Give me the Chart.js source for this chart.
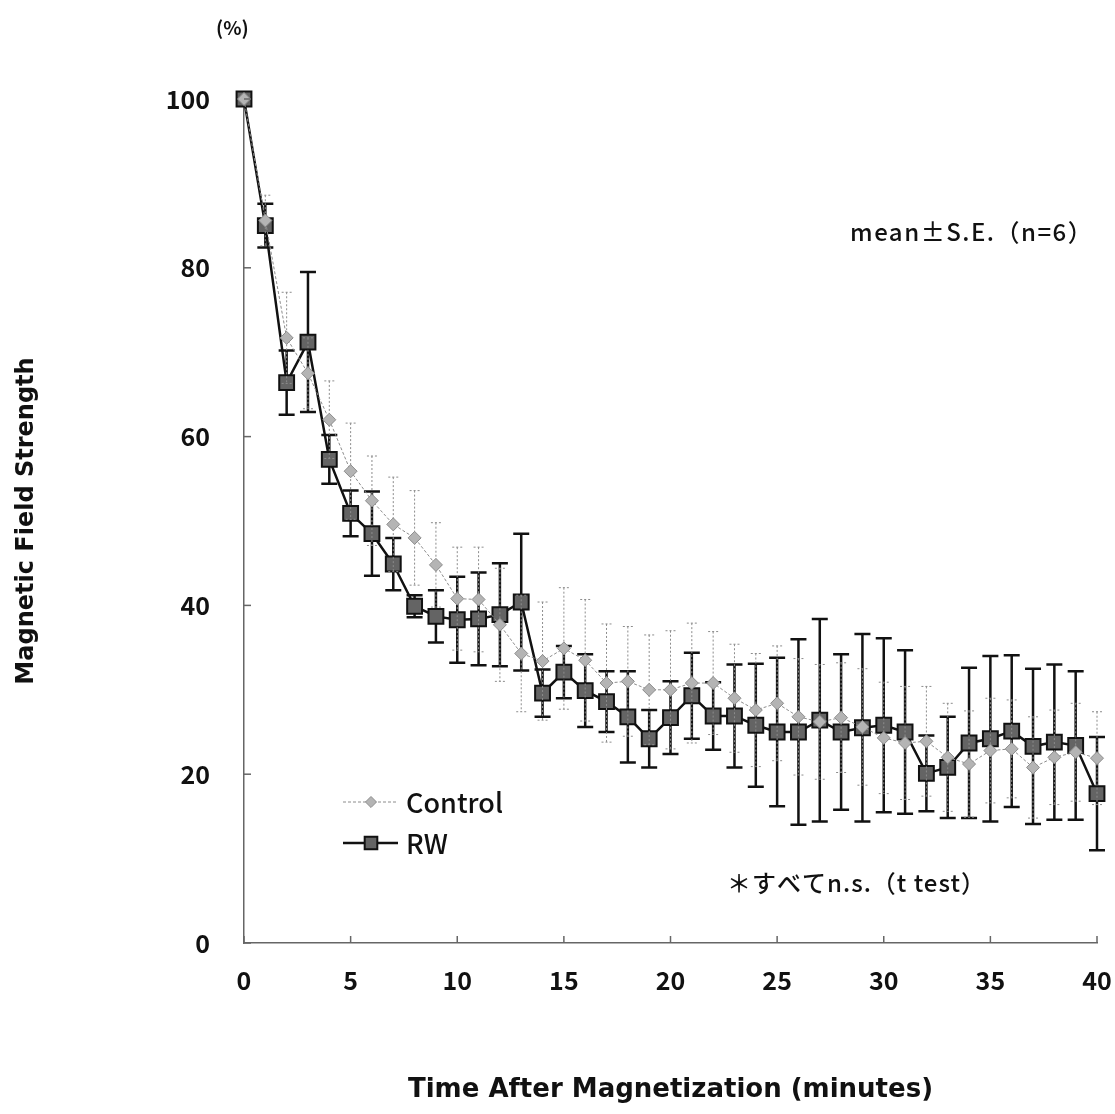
<!DOCTYPE html>
<html>
<head>
<meta charset="utf-8">
<script src="https://cdn.jsdelivr.net/npm/chart.js@4.4.0/dist/chart.umd.min.js"></script>
<style>
html, body { margin: 0; padding: 0; background: #fff; }
#wrap { width: 1115px; height: 1114px; }
</style>
</head>
<body>
<div id="wrap"><canvas id="magChart" width="1115" height="1114"></canvas></div>
<script>
// minutes after magnetization
const minutes = [0, 1, 2, 3, 4, 5, 6, 7, 8, 9, 10, 11, 12, 13, 14, 15, 16, 17, 18, 19, 20,
    21, 22, 23, 24, 25, 26, 27, 28, 29, 30, 31, 32, 33, 34, 35, 36, 37, 38, 39, 40];

// Control group, mean and S.E. (%)
const controlMean = [100, 85.6, 71.7, 67.5, 62.0, 55.9, 52.4, 49.6, 48.0, 44.8, 40.8,
    40.7, 37.7, 34.3, 33.4, 34.9, 33.5, 30.8, 31.0, 30.0, 30.0,
    30.8, 30.8, 29.0, 27.6, 28.4, 26.8, 26.2, 26.7, 25.6, 24.3,
    23.7, 23.9, 22.0, 21.2, 22.8, 23.0, 20.8, 22.0, 22.6, 21.9];
const controlSE = [0, 3.0, 5.4, 4.2, 4.6, 5.7, 5.3, 5.6, 5.6, 5.0, 6.1,
    6.2, 6.7, 6.9, 7.0, 7.2, 7.2, 7.0, 6.5, 6.5, 7.0,
    7.1, 6.1, 6.4, 6.7, 6.8, 6.9, 6.8, 6.5, 6.9, 6.6,
    6.7, 6.5, 6.4, 6.3, 6.2, 5.8, 6.0, 5.6, 5.8, 5.5];

// RW group, mean and S.E. (%)
const rwMean = [100, 85.0, 66.4, 71.2, 57.3, 50.9, 48.5, 44.9, 39.9, 38.7, 38.3,
    38.4, 38.9, 40.4, 29.6, 32.1, 29.9, 28.6, 26.8, 24.2, 26.7,
    29.3, 26.9, 26.9, 25.8, 25.0, 25.0, 26.4, 25.0, 25.5, 25.8,
    25.0, 20.1, 20.8, 23.7, 24.2, 25.1, 23.3, 23.8, 23.4, 17.7];
const rwSE = [0, 2.6, 3.8, 8.3, 2.9, 2.7, 5.0, 3.1, 1.3, 3.1, 5.1,
    5.5, 6.1, 8.1, 2.8, 3.1, 4.3, 3.6, 5.4, 3.4, 4.3,
    5.1, 4.0, 6.1, 7.3, 8.8, 11.0, 12.0, 9.2, 11.1, 10.3,
    9.7, 4.5, 6.0, 8.9, 9.8, 9.0, 9.2, 9.2, 8.8, 6.7];

const seriesLabels = ["Control", "RW"];
const xTickStep = 5;
const yTickStep = 20;

const FONT = '"Noto Sans CJK JP", "DejaVu Sans", sans-serif';
const TITLE_FONT = '"DejaVu Sans", sans-serif';

// error bars, drawn under each dataset's line and markers
const errorBarPlugin = {
    id: "errorBars",
    beforeDatasetDraw(chart, args) {
        const ctx = chart.ctx;
        const xs = chart.scales.x;
        const ys = chart.scales.y;
        const ds = chart.data.datasets[args.index];
        const se = ds.se;
        ctx.save();
        if (args.index === 0) {
            ctx.strokeStyle = "#8c8c8c";
            ctx.lineWidth = 1;
            ctx.setLineDash([2, 2]);
        } else {
            ctx.strokeStyle = "#111";
            ctx.lineWidth = 2.5;
            ctx.setLineDash([]);
        }
        const cap = args.index === 0 ? 5 : 8;
        ds.data.forEach((p, i) => {
            if (!se[i]) return;
            const px = xs.getPixelForValue(p.x);
            const top = ys.getPixelForValue(p.y + se[i]);
            const bot = ys.getPixelForValue(p.y - se[i]);
            ctx.beginPath();
            ctx.moveTo(px, top);
            ctx.lineTo(px, bot);
            ctx.moveTo(px - cap, top);
            ctx.lineTo(px + cap, top);
            ctx.moveTo(px - cap, bot);
            ctx.lineTo(px + cap, bot);
            ctx.stroke();
        });
        ctx.restore();
    }
};

function drawMarker(ctx, ds, x, y, scale) {
    ctx.save();
    ctx.fillStyle = ds.pointBackgroundColor;
    ctx.strokeStyle = ds.pointBorderColor;
    ctx.lineWidth = ds.pointBorderWidth;
    ctx.setLineDash([]);
    Chart.helpers.drawPoint(ctx, {
        pointStyle: ds.pointStyle,
        radius: ds.pointRadius * scale,
        borderWidth: ds.pointBorderWidth
    }, x, y);
    ctx.restore();
}

// inward tick marks, legend and notes
const decorPlugin = {
    id: "decor",
    afterDraw(chart) {
        const ctx = chart.ctx;
        const xs = chart.scales.x;
        const ys = chart.scales.y;
        const area = chart.chartArea;
        ctx.save();
        ctx.strokeStyle = "#666";
        ctx.lineWidth = 1.5;
        ys.ticks.forEach(t => {
            const py = ys.getPixelForValue(t.value);
            ctx.beginPath();
            ctx.moveTo(area.left, py);
            ctx.lineTo(area.left + 7, py);
            ctx.stroke();
        });
        xs.ticks.forEach(t => {
            const px = xs.getPixelForValue(t.value);
            ctx.beginPath();
            ctx.moveTo(px, area.bottom);
            ctx.lineTo(px, area.bottom - 7);
            ctx.stroke();
        });

        // legend
        const lx = 343, lw = 55;
        const rows = [802, 843];
        ctx.textBaseline = "middle";
        ctx.textAlign = "left";
        chart.data.datasets.forEach((ds, i) => {
            const y = rows[i];
            ctx.save();
            ctx.strokeStyle = ds.borderColor;
            ctx.lineWidth = ds.borderWidth;
            ctx.setLineDash(ds.borderDash || []);
            ctx.beginPath();
            ctx.moveTo(lx, y);
            ctx.lineTo(lx + lw, y);
            ctx.stroke();
            ctx.restore();
            drawMarker(ctx, ds, lx + 28, y, 0.85);
            ctx.fillStyle = "#111";
            ctx.font = "500 27px " + FONT;
            ctx.fillText(ds.label, lx + 63, y + 1);
        });

        ctx.fillStyle = "#111";
        ctx.letterSpacing = "1.5px";
        ctx.font = "500 24px " + FONT;
        ctx.fillText("mean\u00b1S.E.\uff08n=6\uff09", 850, 232);
        ctx.letterSpacing = "1px";
        ctx.font = "500 24px " + FONT;
        ctx.fillText("\uff0a\u3059\u3079\u3066n.s.\uff08t test\uff09", 727, 883);
        ctx.letterSpacing = "0px";
        ctx.font = "bold 19px " + FONT;
        ctx.fillText("(%)", 216, 28);
        ctx.restore();
    }
};

const ctxMag = document.getElementById("magChart");
const configMag = {
    type: "line",
    data: {
        datasets: [{
            label: seriesLabels[0],
            data: minutes.map((m, i) => ({ x: m, y: controlMean[i] })),
            se: controlSE,
            borderColor: "#8c8c8c",
            borderWidth: 1,
            borderDash: [3, 2],
            pointStyle: "rectRot",
            pointRadius: 6.5,
            pointBackgroundColor: "#b4b4b4",
            pointBorderColor: "#8c8c8c",
            pointBorderWidth: 1,
            tension: 0,
            clip: false
        },
        {
            label: seriesLabels[1],
            data: minutes.map((m, i) => ({ x: m, y: rwMean[i] })),
            se: rwSE,
            borderColor: "#111",
            borderWidth: 2.5,
            pointStyle: "rect",
            pointRadius: 10.5,
            pointBackgroundColor: "#646464",
            pointBorderColor: "#111",
            pointBorderWidth: 2,
            tension: 0,
            clip: false
        }]
    },
    options: {
        responsive: false,
        animation: false,
        layout: { padding: { top: 99, right: 18, left: 0, bottom: 0 } },
        plugins: {
            legend: { display: false },
            tooltip: { enabled: false }
        },
        scales: {
            x: {
                type: "linear",
                min: 0,
                max: 40,
                ticks: {
                    stepSize: xTickStep,
                    padding: 22,
                    color: "#111",
                    font: { family: FONT, size: 25, weight: "bold" }
                },
                grid: { display: false, drawTicks: false },
                border: { color: "#666", width: 1.5 },
                title: {
                    display: true,
                    text: "Time After Magnetization (minutes)",
                    color: "#111",
                    font: { family: TITLE_FONT, size: 26, weight: "bold" },
                    padding: { top: 0, bottom: 8 }
                },
                afterFit(scale) {
                    scale.height = 171;
                    scale.paddingLeft = 0;
                    scale.paddingRight = 0;
                }
            },
            y: {
                min: 0,
                max: 100,
                ticks: {
                    stepSize: yTickStep,
                    padding: 34,
                    color: "#111",
                    font: { family: FONT, size: 25, weight: "bold" }
                },
                grid: { display: false, drawTicks: false },
                border: { color: "#666", width: 1.5 },
                title: {
                    display: true,
                    text: "Magnetic Field Strength",
                    color: "#111",
                    font: { family: TITLE_FONT, size: 24, weight: "bold" },
                    padding: { top: 12, bottom: 0 }
                },
                afterFit(scale) {
                    scale.width = 244;
                    scale.paddingTop = 0;
                    scale.paddingBottom = 0;
                }
            }
        }
    },
    plugins: [errorBarPlugin, decorPlugin]
};

new Chart(ctxMag, configMag);
</script>
</body>
</html>
